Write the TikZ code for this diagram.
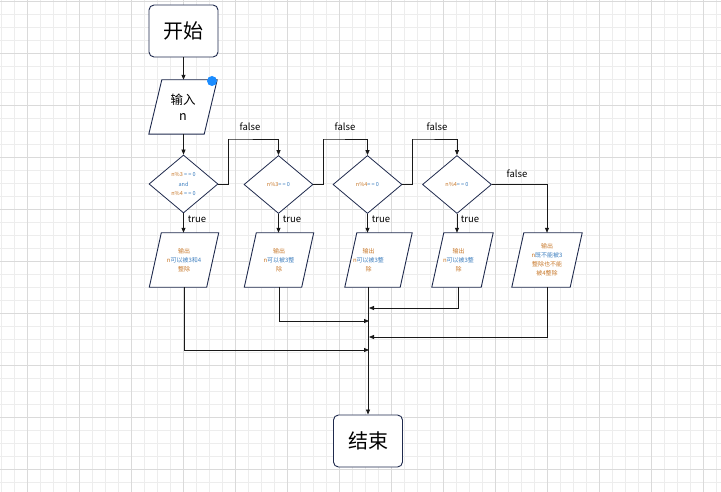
\documentclass[tikz,border=0pt]{standalone}
\usepackage{fontspec}
\setmainfont{Noto Sans CJK SC}
\usetikzlibrary{shapes.geometric,arrows.meta,calc}
\definecolor{gridminor}{HTML}{EDEDED}
\definecolor{gridmajor}{HTML}{DADADA}
\definecolor{boxline}{HTML}{1F2A4D}
\definecolor{txtorange}{HTML}{C8782A}
\definecolor{txtblue}{HTML}{3E7FBF}
\definecolor{dotblue}{HTML}{1A8CFF}
\tikzset{
  term/.style={draw=boxline, line width=0.9pt, rounded corners=5pt, minimum width=69pt, minimum height=52pt, inner sep=0pt, fill=white, font=\fontsize{20}{22}\selectfont},
  parahold/.style={minimum width=#1, minimum height=54pt, inner sep=0pt, align=center},
  parashape/.style={draw=boxline, line width=0.9pt, fill=white},
  decision/.style={diamond, draw=boxline, line width=0.8pt, minimum width=69pt, minimum height=58pt, inner sep=0pt, fill=white, align=center, font=\fontsize{5.5}{9.5}\selectfont},
  outtext/.style={font=\fontsize{6}{9}\selectfont, align=center},
  flow/.style={draw=black!90, line width=0.8pt, -{Triangle[length=5pt,width=4pt]}},
  plain/.style={draw=black!90, line width=0.8pt},
  lbl/.style={font=\fontsize{9.5}{11}\selectfont, inner sep=0pt}
}
\begin{document}
\begin{tikzpicture}[x=1pt,y=-1pt]
\useasboundingbox (0,0) rectangle (721,492);
\fill[white] (0,0) rectangle (721,492);
% grid
\foreach \x in {1,14,...,721} \draw[gridminor, line width=0.6pt] (\x,0) -- (\x,492);
\foreach \y in {1,14,...,492} \draw[gridminor, line width=0.6pt] (0,\y) -- (721,\y);
\foreach \x in {27,79,...,721} \draw[gridmajor, line width=0.8pt] (\x,0) -- (\x,492);
\foreach \y in {1,53,...,492} \draw[gridmajor, line width=0.8pt] (0,\y) -- (721,\y);

% start
\node[term] (start) at (183.5,31) {开始};

% input parallelogram
\node[parahold=68pt] (inp) at (183,107) {};
\draw[parashape] ($(inp.north west)+(13,0)$) -- (inp.north east) -- ($(inp.south east)-(13,0)$) -- (inp.south west) -- cycle;
\node[font=\fontsize{12.5}{16}\selectfont, align=center] (inptext) at (inp.center) {输入\\n};
\fill[dotblue] (212,81) circle (5pt);

% decisions
\node[decision] (d1) at (183.5,184) {\textcolor{txtorange}{n\%3} \textcolor{txtblue}{= = 0}\\\textcolor{txtblue}{and}\\\textcolor{txtorange}{n\%4} \textcolor{txtblue}{= = 0}};
\node[decision] (d2) at (278.5,184.5) {\textcolor{txtorange}{n\%3}\textcolor{txtblue}{= = 0}};
\node[decision] (d3) at (367.5,184.5) {\textcolor{txtorange}{n\%4}\textcolor{txtblue}{= = 0}};
\node[decision] (d4) at (457,184.5) {\textcolor{txtorange}{n\%4}\textcolor{txtblue}{= = 0}};

% output parallelograms
\node[parahold=69pt] (o1) at (184,260) {};
\node[parahold=69pt] (o2) at (279,260) {};
\node[parahold=67pt] (o3) at (378.5,260) {};
\node[parahold=61pt] (o4) at (462.5,260) {};
\node[parahold=70pt] (o5) at (547,260) {};
\foreach \n/\s in {o1/12,o2/12,o3/12,o4/12,o5/12}
  \draw[parashape] ($(\n.north west)+(\s,0)$) -- (\n.north east) -- ($(\n.south east)-(\s,0)$) -- (\n.south west) -- cycle;
\node[outtext] (t1) at (o1.center) {\textcolor{txtorange}{输出}\\\textcolor{txtorange}{n}\textcolor{txtblue}{可以被3和4}\\\textcolor{txtorange}{整除}};
\node[outtext] (t2) at (o2.center) {\textcolor{txtorange}{输出}\\\textcolor{txtorange}{n}\textcolor{txtblue}{可以被3整}\\\textcolor{txtorange}{除}};
\node[outtext] (t3) at ($(o3.center)-(10,0)$) {\textcolor{txtorange}{输出}\\\textcolor{txtorange}{n}\textcolor{txtblue}{可以被3整}\\\textcolor{txtorange}{除}};
\node[outtext] (t4) at ($(o4.center)-(4,0)$) {\textcolor{txtorange}{输出}\\\textcolor{txtorange}{n}\textcolor{txtblue}{可以被3整}\\\textcolor{txtorange}{除}};
\node[outtext] (t5) at (o5.center) {\textcolor{txtorange}{输出}\\\textcolor{txtorange}{n}\textcolor{txtblue}{既不能被3}\\\textcolor{txtorange}{整除也不能}\\\textcolor{txtorange}{被4整除}};

% end
\node[term] (finish) at (368,441) {结束};

% helper coordinates
\coordinate (m1) at (369,350);
\coordinate (m2) at (369,321);
\coordinate (m4) at (369,308);
\coordinate (m5) at (369,337);

% connectors
\draw[flow] (start.south) -- (inp.north -| start.south);
\draw[flow] (inp.south -| d1.north) -- (d1.north);
\draw[flow] (d1.south) -- (d1.south |- o1.north);
\draw[flow] (d1.east) -- ++(10,0) |- (228,139) -| (d2.north);
\draw[flow] (d2.east) -- ++(10,0) |- (323,139) -| (d3.north);
\draw[flow] (d3.east) -- ++(10,0) |- (412,139) -| (d4.north);
\draw[flow] (d4.east) -| (o5.north);
\draw[flow] (d2.south) -- (d2.south |- o2.north);
\draw[flow] (d3.south) -- (d3.south |- o3.north);
\draw[flow] (d4.south) -- (d4.south |- o4.north);

\draw[flow] (o1.south) |- (m1);
\draw[flow] (o2.south) |- (m2);
\draw[flow] (o4.south -| 458,0) |- (m4);
\draw[flow] (o5.south) |- (m5);
\draw[flow] (o3.south -| finish.north) -- (finish.north);

% labels
\node[lbl] (l1) at (197,219) {true};
\node[lbl] (l2) at (292,219) {true};
\node[lbl] (l3) at (381,219) {true};
\node[lbl] (l4) at (470,219) {true};
\node[lbl] (f1) at (250,127) {false};
\node[lbl] (f2) at (345,127) {false};
\node[lbl] (f3) at (437,127) {false};
\node[lbl] (f4) at (517,174) {false};
\end{tikzpicture}
\end{document}
